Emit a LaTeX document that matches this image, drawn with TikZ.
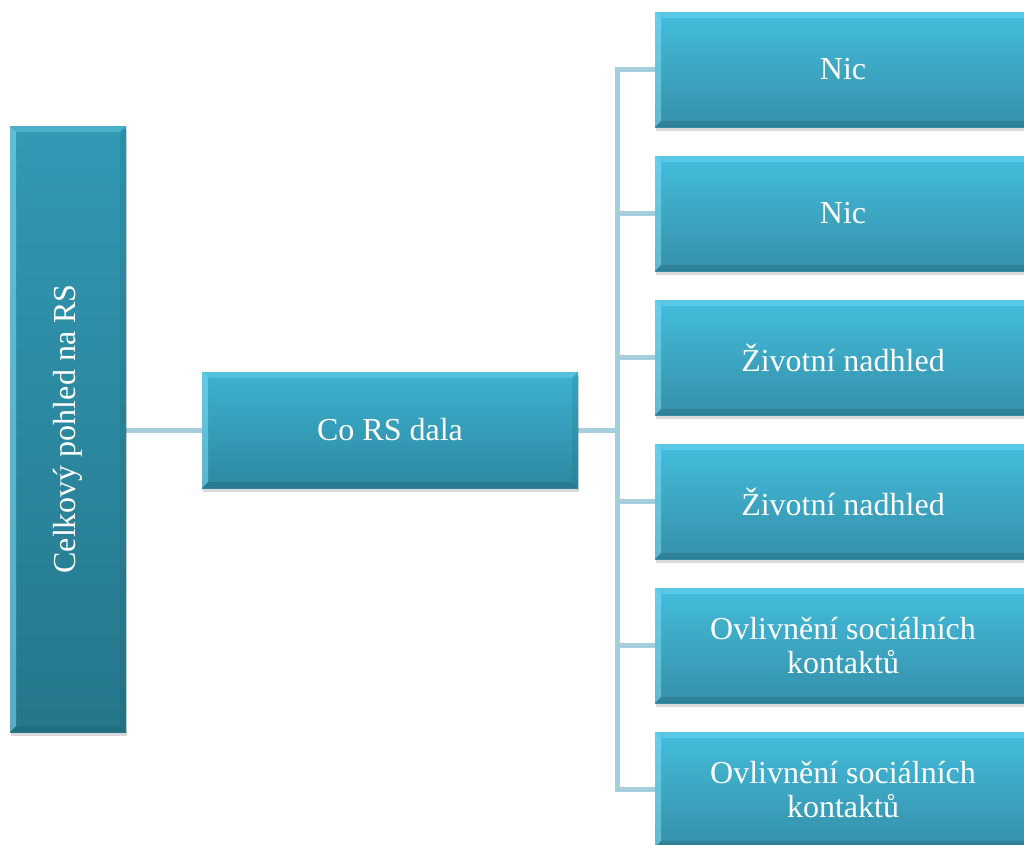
\documentclass[tikz,border=0pt]{standalone}
\usepackage{fontspec}
\setmainfont{Liberation Serif}
\usetikzlibrary{shadows}
\definecolor{conn}{HTML}{A6CFDD}
\definecolor{rtop}{HTML}{43BDDD}
\definecolor{rbot}{HTML}{3590A8}
\definecolor{mtop}{HTML}{3CB2D1}
\definecolor{mbot}{HTML}{2E88A0}
\definecolor{ltop}{HTML}{3299B4}
\definecolor{lbot}{HTML}{25778B}
\definecolor{bevlight}{HTML}{8AE4F8}
\definecolor{bevdark}{HTML}{1C5A69}
\tikzset{
  bevel/.style={path picture={
    \fill[bevlight,opacity=0.3] (path picture bounding box.north west) -- (path picture bounding box.north east) -- ([xshift=-6pt,yshift=-6pt]path picture bounding box.north east) -- ([xshift=6pt,yshift=-6pt]path picture bounding box.north west) -- cycle;
    \fill[bevlight,opacity=0.5] (path picture bounding box.north west) -- ([xshift=6pt,yshift=-6pt]path picture bounding box.north west) -- ([xshift=6pt,yshift=6pt]path picture bounding box.south west) -- (path picture bounding box.south west) -- cycle;
    \fill[bevdark,opacity=0.3] (path picture bounding box.south west) -- ([xshift=6pt,yshift=6pt]path picture bounding box.south west) -- ([xshift=-6pt,yshift=6pt]path picture bounding box.south east) -- (path picture bounding box.south east) -- cycle;
    \fill[bevdark,opacity=0.15] (path picture bounding box.north east) -- (path picture bounding box.south east) -- ([xshift=-6pt,yshift=6pt]path picture bounding box.south east) -- ([xshift=-6pt,yshift=-6pt]path picture bounding box.north east) -- cycle;
  }},
  box/.style={rectangle, inner sep=0pt, text=white, align=center,
    font=\fontsize{32}{34}\selectfont, bevel,
    drop shadow={opacity=0.15, shadow xshift=1pt, shadow yshift=-4pt, fill=black}},
  rbox/.style={box, minimum width=376pt, minimum height=115pt, top color=rtop, bottom color=rbot},
  mbox/.style={box, minimum width=376pt, minimum height=116pt, top color=mtop, bottom color=mbot},
  lbox/.style={box, minimum width=116pt, minimum height=606pt, top color=ltop, bottom color=lbot},
  connector/.style={draw=conn, line width=5pt}
}
\begin{document}
\begin{tikzpicture}[x=1pt,y=-1pt]
\useasboundingbox (0,0) rectangle (1024,844);
\coordinate (t) at (617,430);
\draw[connector] (126,430) coordinate (la) -- (202,430) coordinate (ma);
\draw[connector] (578,430) coordinate (mb) -- (t);
\draw[connector] (655,69.5) coordinate (a1) -| (t |- 789.5,789.5) -- (655,789.5) coordinate (a6);
\draw[connector] (t |- 213.5,213.5) -- (655,213.5);
\draw[connector] (t |- 357.5,357.5) -- (655,357.5);
\draw[connector] (t |- 501.5,501.5) -- (655,501.5);
\draw[connector] (t |- 645.5,645.5) -- (655,645.5);

\node[lbox] (left) at (68,429) {\rotatebox{90}{Celkový pohled na RS}};
\node[mbox] (mid) at (390,430) {Co RS dala};
\node[rbox] (r1) at (843,69.5) {Nic};
\node[rbox] (r2) at (843,213.5) {Nic};
\node[rbox] (r3) at (843,357.5) {Životní nadhled};
\node[rbox] (r4) at (843,501.5) {Životní nadhled};
\node[rbox] (r5) at (843,645.5) {Ovlivnění sociálních\\kontaktů};
\node[rbox] (r6) at (843,789.5) {Ovlivnění sociálních\\kontaktů};
\end{tikzpicture}
\end{document}
